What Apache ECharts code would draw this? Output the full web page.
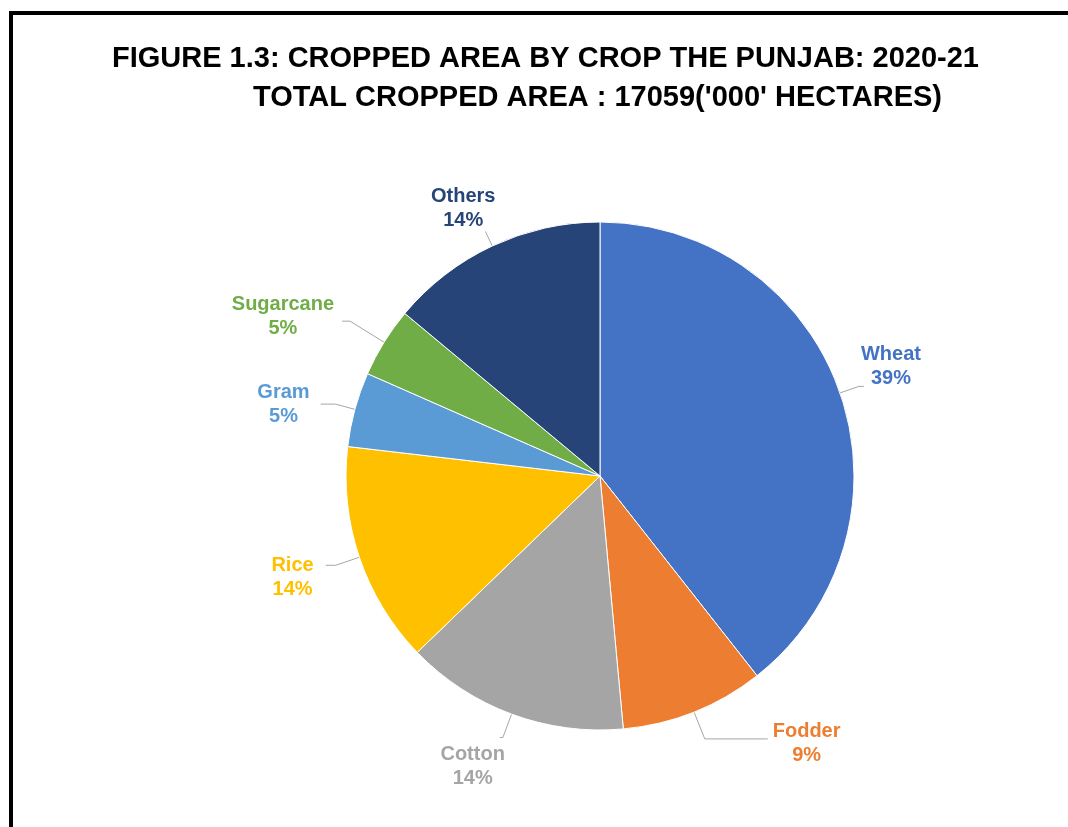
<!DOCTYPE html>
<html>
<head>
<meta charset="utf-8">
<script src="https://cdn.jsdelivr.net/npm/echarts@6/dist/echarts.min.js"></script>
<style>
  html, body { margin: 0; padding: 0; background: #ffffff; }
  #chart { width: 1068px; height: 827px; }
</style>
</head>
<body>
<div id="chart"></div>
<script>
  // area in '000 hectares (total 17059)
  var crops = ['Wheat', 'Fodder', 'Cotton', 'Rice', 'Gram', 'Sugarcane', 'Others']
  var area = [6720, 1560, 2430, 2400, 810, 760, 2379]
  var colors = ['#4472C4', '#ED7D31', '#A5A5A5', '#FFC000', '#5B9BD5', '#70AD47', '#264478']

  // leader line lengths and label nudges, per slice (excel-ish placement)
  var labelTweak = {
    Wheat: { len: 20, len2: 5, dx: -8, dy: -20 },
    Fodder: { len: 29, len2: 63, dx: 0, dy: 5 },
    Cotton: { len: 25, len2: 3, dx: 10, dy: 29 },
    Rice: { len: 25, len2: 10, dx: -7, dy: 12 },
    Gram: { len: 20, len2: 15, dx: -6, dy: 0 },
    Sugarcane: { len: 40, len2: 8, dx: -3, dy: -5 },
    Others: { len: 16, len2: 0, dx: 15, dy: -23 }
  }

  var chart = echarts.init(document.getElementById('chart'))

  var pieData = crops.map(function (name, i) {
    var t = labelTweak[name]
    return {
      name: name,
      value: area[i],
      itemStyle: { color: colors[i] },
      label: { color: colors[i] },
      labelLine: { length: t.len, length2: t.len2 }
    }
  })

  chart.setOption({
    animation: false,
    backgroundColor: '#ffffff',
    title: [
      {
        text: 'FIGURE 1.3: CROPPED AREA BY CROP THE PUNJAB: 2020-21',
        left: 107,
        top: 39,
        textStyle: { fontFamily: 'Liberation Sans, Arial', fontSize: 29, fontWeight: 'bold', color: '#000000' }
      },
      {
        text: "TOTAL CROPPED AREA : 17059('000' HECTARES)",
        left: 248,
        top: 78,
        textStyle: { fontFamily: 'Liberation Sans, Arial', fontSize: 29, fontWeight: 'bold', color: '#000000' }
      }
    ],
    graphic: [
      { type: 'rect', shape: { x: 9, y: 11, width: 1068, height: 4 }, style: { fill: '#000000' } },
      { type: 'rect', shape: { x: 9, y: 11, width: 4, height: 827 }, style: { fill: '#000000' } }
    ],
    series: [
      {
        type: 'pie',
        center: [600, 476],
        radius: 254,
        startAngle: 90,
        clockwise: true,
        percentPrecision: 0,
        data: pieData,
        itemStyle: { borderColor: '#ffffff', borderWidth: 1 },
        label: {
          show: true,
          position: 'outside',
          formatter: '{b}\n{d}%',
          fontFamily: 'Liberation Sans, Arial',
          fontSize: 20,
          fontWeight: 'bold',
          lineHeight: 24
        },
        labelLine: {
          show: true,
          lineStyle: { color: '#A6A6A6', width: 1 }
        },
        labelLayout: function (p) {
          var t = labelTweak[crops[p.dataIndex]]
          var half = p.labelRect.width / 2
          return {
            align: 'center',
            dx: (p.align === 'right' ? -half : half) + t.dx,
            dy: t.dy
          }
        }
      }
    ]
  })
</script>
</body>
</html>
